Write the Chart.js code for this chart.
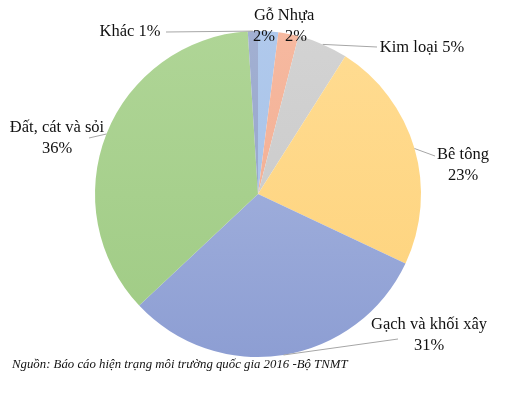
<!DOCTYPE html>
<html>
<head>
    <meta charset="utf-8">
    <title>Chất thải rắn xây dựng</title>
    <script src="https://cdn.jsdelivr.net/npm/chart.js"></script>
    <style>
        html, body { margin: 0; padding: 0; background: #fff; }
        #wrap { position: relative; width: 523px; height: 393px; }
        #note {
            position: absolute; left: 12px; top: 357px;
            font: italic 12.8px "Liberation Serif", "Times New Roman", serif;
            color: #111; white-space: nowrap;
        }
    </style>
</head>
<body>
<div id="wrap">
    <canvas id="pie" width="523" height="393"></canvas>
    <div id="note">Nguồn: Báo cáo hiện trạng môi trường quốc gia 2016 -Bộ TNMT</div>
</div>
<script>
    // data
    const categories = ["Gỗ", "Nhựa", "Kim loại", "Bê tông", "Gạch và khối xây", "Đất, cát và sỏi", "Khác"];
    const values = [2, 2, 5, 23, 31, 36, 1];

    // colours (top / bottom of the soft vertical gradient)
    const topColors = ["#b0c9ec", "#f6b9a0", "#d3d3d3", "#ffdc92", "#acbae2", "#afd596", "#a2b0d2"];
    const bottomColors = ["#a3bfe6", "#f1a98c", "#c6c6c6", "#fed27a", "#8d9ed3", "#9fcb84", "#8f9fc8"];

    // label layout: text lines, text centre x, first line y, leader end (null = no leader)
    const labelLayout = [
        { lines: ["Gỗ", "2%"], x: 264, y: 16, end: null },
        { lines: ["Nhựa", "2%"], x: 296, y: 16, end: null },
        { lines: ["Kim loại 5%"], x: 422, y: 48, end: [377, 47] },
        { lines: ["Bê tông", "23%"], x: 463, y: 155, end: [435, 156] },
        { lines: ["Gạch và khối xây", "31%"], x: 429, y: 325, end: [398, 339] },
        { lines: ["Đất, cát và sỏi", "36%"], x: 57, y: 128, end: [89, 138] },
        { lines: ["Khác 1%"], x: 130, y: 32, end: [166, 32] }
    ];

    function sliceColor(ctx) {
        const i = ctx.dataIndex;
        const area = ctx.chart.chartArea;
        if (!area) return topColors[i];
        const g = ctx.chart.ctx.createLinearGradient(0, area.top, 0, area.bottom);
        g.addColorStop(0, topColors[i]);
        g.addColorStop(1, bottomColors[i]);
        return g;
    }

    const pieLabels = {
        id: "pieLabels",
        afterDatasetsDraw(chart) {
            const c = chart.ctx;
            const arcs = chart.getDatasetMeta(0).data;
            c.save();
            // leader lines
            c.strokeStyle = "#a6a6a6";
            c.lineWidth = 1;
            arcs.forEach((arc, i) => {
                const lay = labelLayout[i];
                if (!lay.end) return;
                const mid = (arc.startAngle + arc.endAngle) / 2;
                const sx = arc.x + Math.cos(mid) * arc.outerRadius;
                const sy = arc.y + Math.sin(mid) * arc.outerRadius;
                c.beginPath();
                c.moveTo(sx, sy);
                c.lineTo(lay.end[0], lay.end[1]);
                c.stroke();
            });
            // texts
            c.fillStyle = "#111";
            c.font = '16.5px "Liberation Serif", "Times New Roman", serif';
            c.textAlign = "center";
            c.textBaseline = "middle";
            labelLayout.forEach(lay => {
                lay.lines.forEach((t, k) => c.fillText(t, lay.x, lay.y + k * 20.5));
            });
            c.restore();
        }
    };

    new Chart(document.getElementById("pie"), {
        type: "pie",
        data: {
            labels: categories,
            datasets: [{
                data: values,
                backgroundColor: sliceColor,
                borderWidth: 0
            }]
        },
        options: {
            responsive: false,
            animation: false,
            layout: { padding: { left: 95, right: 102, top: 31, bottom: 36 } },
            plugins: { legend: { display: false }, tooltip: { enabled: false } }
        },
        plugins: [pieLabels]
    });
</script>
</body>
</html>
